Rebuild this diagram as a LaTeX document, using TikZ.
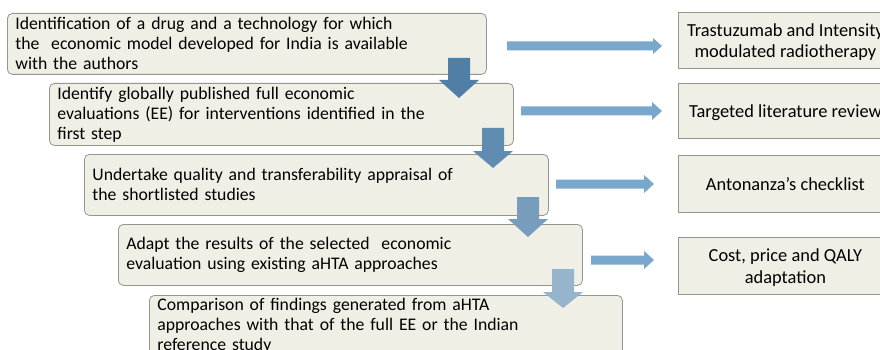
\documentclass[tikz,border=0pt]{standalone}
\usepackage{fontspec}
\setmainfont{Carlito}
\definecolor{boxfill}{RGB}{239,239,229}
\definecolor{boxline}{RGB}{150,150,140}
\definecolor{rarrow}{RGB}{122,167,204}
\definecolor{darrowA}{RGB}{80,126,165}
\definecolor{darrowB}{RGB}{96,140,177}
\definecolor{darrowC}{RGB}{119,156,188}
\definecolor{darrowD}{RGB}{150,180,204}
\tikzset{
  stepbox/.style={draw=boxline, fill=boxfill, line width=0.8pt, rounded corners=5pt,
    anchor=north west, align=left, inner xsep=8pt, inner ysep=0pt,
    font=\fontsize{17.7}{20}\selectfont},
  resbox/.style={draw=boxline, fill=boxfill, line width=0.8pt,
    anchor=north west, align=center, inner sep=0pt, text depth=0pt,
    minimum width=214pt, font=\fontsize{18.4}{21.5}\selectfont},
}
\begin{document}
\begin{tikzpicture}[x=1pt,y=-1pt]
\useasboundingbox (0,0) rectangle (880,350);
\clip (0,0) rectangle (880,350);
\fill[white] (0,0) rectangle (880,350);
% left step boxes
\node[stepbox, minimum width=479pt, minimum height=61pt, text width=463pt] (s1) at (7,13)
  {Identification of a drug and a technology for which\\the\ \ economic model developed for India is available\\with the authors};
\node[stepbox, minimum width=464pt, minimum height=62pt, text width=448pt] (s2) at (49,83)
  {Identify globally published full economic\\evaluations (EE) for interventions identified in the\\first step};
\node[stepbox, minimum width=464pt, minimum height=61pt, text width=448pt] (s3) at (84,154)
  {Undertake quality and transferability appraisal of\\the shortlisted studies};
\node[stepbox, minimum width=464pt, minimum height=61pt, text width=448pt] (s4) at (118,224)
  {Adapt the results of the selected\ \ economic\\evaluation using existing aHTA approaches};
\node[stepbox, minimum width=473pt, inner ysep=3pt, text width=457pt] (s5) at (149,295)
  {Comparison of findings generated from aHTA\\approaches with that of the full EE or the Indian\\reference study};
% right result boxes
\node[resbox, minimum height=56pt] (r1) at (678,12) {Trastuzumab and Intensity\\modulated radiotherapy};
\node[resbox, minimum height=55pt] (r2) at (678,83) {Targeted literature review};
\node[resbox, minimum height=57pt] (r3) at (678,155) {Antonanza’s checklist};
\node[resbox, minimum height=57pt] (r4) at (678,237) {Cost, price and QALY\\adaptation};
% down block arrows
\fill[darrowA] (448,58) -- (470,58) -- (470,80) -- (479,80) -- (459,98) -- (439,80) -- (448,80) -- cycle;
\fill[darrowB] (482,128) -- (504,128) -- (504,151) -- (513,151) -- (493,168) -- (473,151) -- (482,151) -- cycle;
\fill[darrowC] (517,197) -- (539,197) -- (539,219) -- (548,219) -- (528,237) -- (508,219) -- (517,219) -- cycle;
\fill[darrowD] (552,269) -- (574,269) -- (574,292) -- (583,292) -- (563,308) -- (543,292) -- (552,292) -- cycle;
% right block arrows
\fill[rarrow] (507,41.5) -- (653,41.5) -- (653,38) -- (662,46) -- (653,54) -- (653,50.5) -- (507,50.5) -- cycle;
\fill[rarrow] (521,106.5) -- (652,106.5) -- (652,102) -- (662,111) -- (652,120) -- (652,115.5) -- (521,115.5) -- cycle;
\fill[rarrow] (556,179.5) -- (644,179.5) -- (644,175) -- (654,184) -- (644,193) -- (644,188.5) -- (556,188.5) -- cycle;
\fill[rarrow] (591,255.5) -- (644,255.5) -- (644,251) -- (654,260) -- (644,269) -- (644,264.5) -- (591,264.5) -- cycle;
\end{tikzpicture}
\end{document}
